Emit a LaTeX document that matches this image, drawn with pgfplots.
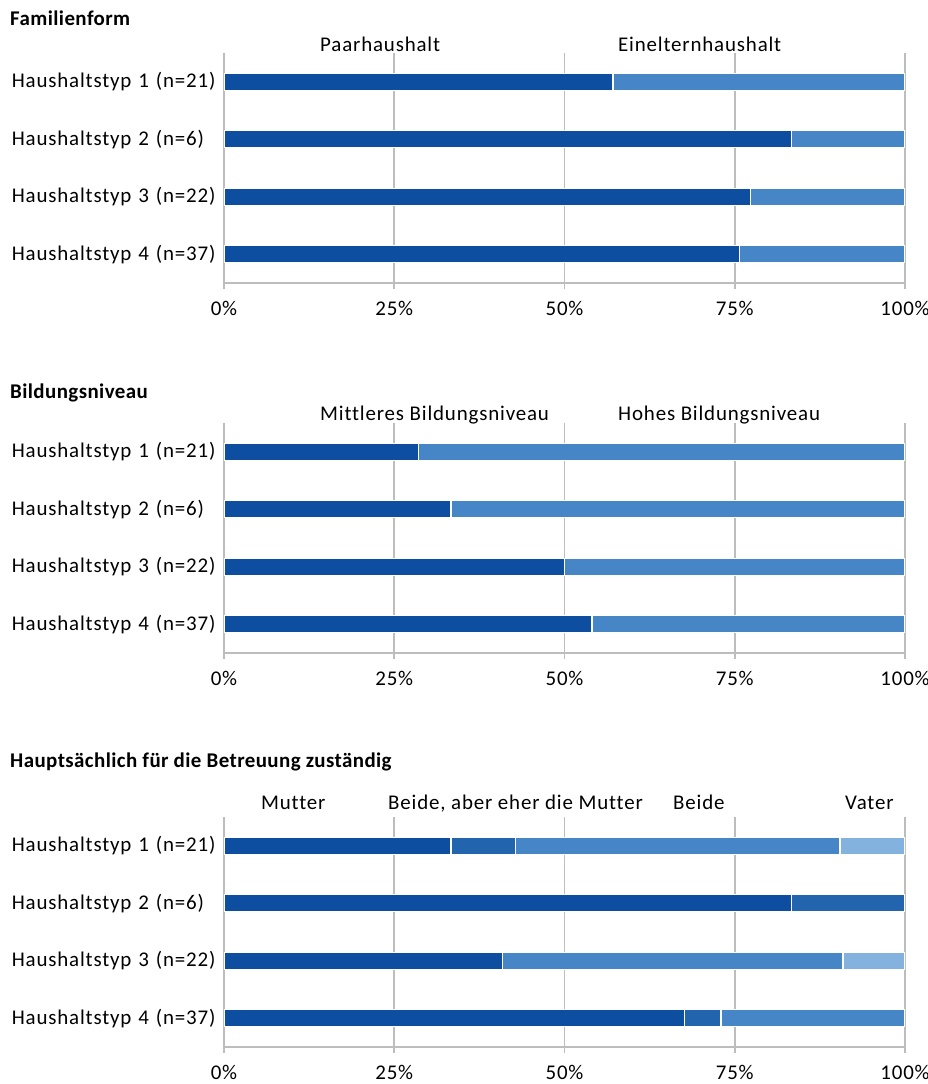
\documentclass[border=0pt]{standalone}
\usepackage{pgfplots}
\pgfplotsset{compat=1.18}
\usepackage{fontspec}
\setmainfont{Carlito}[Ligatures=NoCommon]
\newfontfamily\lblfont{Carlito}[LetterSpace=4, Ligatures=NoCommon]
\newfontfamily\ttlfont{Carlito}[LetterSpace=2, Ligatures=NoCommon]
\definecolor{cA}{HTML}{0D4EA0}
\definecolor{cB}{HTML}{2264AE}
\definecolor{cC}{HTML}{4686C6}
\definecolor{cD}{HTML}{84B2DE}
\definecolor{gridc}{HTML}{BDBDBD}
\newcommand{\lbl}{\lblfont\fontsize{21}{25}\selectfont}
\newcommand{\ttl}{\ttlfont\bfseries\fontsize{21}{25}\selectfont}
\pgfplotsset{panel/.style={
  xbar stacked, scale only axis, width=681bp, height=230bp,
  xmin=0, xmax=100, ymin=0.5, ymax=4.5, y dir=reverse,
  bar width=17bp,
  axis x line*=bottom, axis y line*=left,
  y axis line style={draw=none},
  x axis line style={draw=gridc, line width=1.8bp},
  xtick={0,25,50,75,100},
  xticklabel={\pgfmathprintnumber{\tick}\%},
  ytick={1,2,3,4},
  yticklabels={Haushaltstyp 1 (n=21),Haushaltstyp 2 (n=6),Haushaltstyp 3 (n=22),Haushaltstyp 4 (n=37)},
  xmajorgrids, grid style={draw=gridc, line width=1.8bp},
  tick align=outside, major tick length=6bp,
  x tick style={draw=gridc, line width=1.8bp},
  y tick style={draw=none},
  /pgf/number format/assume math mode=true,
  tick label style={font=\lbl},
  yticklabel style={inner sep=0pt, text width=206bp, align=left, anchor=east},
  xticklabel style={inner sep=0pt, yshift=-12bp},
}}
\begin{document}
\begin{tikzpicture}[x=1bp,y=1bp]
\useasboundingbox (0,0) rectangle (928,-1084);
% Panel 1
\node[anchor=west, font=\ttl, inner sep=0pt] at (10,-18) {Familienform};
\node[anchor=base west, font=\lbl, inner sep=0pt] at (320,-51) {Paarhaushalt};
\node[anchor=base west, font=\lbl, inner sep=0pt] at (618,-51) {Einelternhaushalt};
\begin{axis}[panel, at={(224bp,-53bp)}, anchor=north west]
\addplot[fill=cA, draw=white, line width=1.3bp] coordinates {(57.14,1) (83.33,2) (77.27,3) (75.68,4)};
\addplot[fill=cC, draw=white, line width=1.3bp] coordinates {(42.86,1) (16.67,2) (22.73,3) (24.32,4)};
\end{axis}
% Panel 2
\node[anchor=west, font=\ttl, inner sep=0pt] at (10,-393) {Bildungsniveau};
\node[anchor=base west, font=\lbl, inner sep=0pt] at (320,-420) {Mittleres Bildungsniveau};
\node[anchor=base west, font=\lbl, inner sep=0pt] at (618,-420) {Hohes Bildungsniveau};
\begin{axis}[panel, at={(224bp,-423bp)}, anchor=north west]
\addplot[fill=cA, draw=white, line width=1.3bp] coordinates {(28.57,1) (33.33,2) (50.00,3) (54.05,4)};
\addplot[fill=cC, draw=white, line width=1.3bp] coordinates {(71.43,1) (66.67,2) (50.00,3) (45.95,4)};
\end{axis}
% Panel 3
\node[anchor=west, font=\ttl, inner sep=0pt] at (10,-762) {Hauptsächlich für die Betreuung zuständig};
\node[anchor=base west, font=\lbl, inner sep=0pt] at (261,-809) {Mutter};
\node[anchor=base west, font=\lbl, inner sep=0pt] at (388,-809) {Beide, aber eher die Mutter};
\node[anchor=base west, font=\lbl, inner sep=0pt] at (673,-809) {Beide};
\node[anchor=base west, font=\lbl, inner sep=0pt] at (845,-809) {Vater};
\begin{axis}[panel, at={(224bp,-817bp)}, anchor=north west]
\addplot[fill=cA, draw=white, line width=1.3bp] coordinates {(33.33,1) (83.33,2) (40.91,3) (67.57,4)};
\addplot[fill=cB, draw=white, line width=1.3bp] coordinates {(9.52,1) (16.67,2) (0,3) (5.41,4)};
\addplot[fill=cC, draw=white, line width=1.3bp] coordinates {(47.62,1) (0,2) (50.00,3) (27.03,4)};
\addplot[fill=cD, draw=white, line width=1.3bp] coordinates {(9.52,1) (0,2) (9.09,3) (0,4)};
\end{axis}
\end{tikzpicture}
\end{document}
